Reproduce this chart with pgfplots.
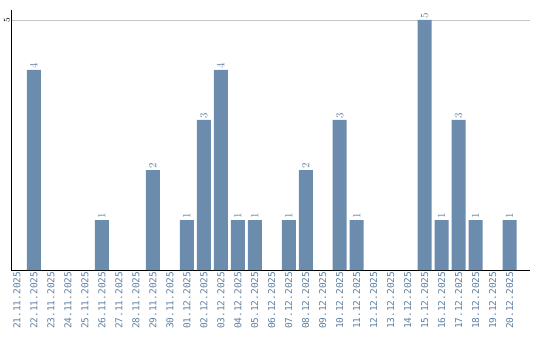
\documentclass[border=0pt]{standalone}
\usepackage{fontspec}
\usepackage{pgfplots}
\pgfplotsset{compat=1.18}
\setmainfont{DejaVu Sans}
\newfontfamily\monof{DejaVu Sans Mono}
\definecolor{barc}{HTML}{6B8CAD}
\definecolor{labc}{HTML}{5F80A3}
\begin{document}
\begin{tikzpicture}
\path[use as bounding box] (0,0) rectangle (540pt,340pt);
\begin{axis}[
  at={(11pt,70pt)}, anchor=south west,
  scale only axis, width=519pt, height=260pt,
  xmin=-0.35, xmax=30.2, ymin=0, ymax=5.2,
  axis x line*=bottom, axis y line*=left,
  axis line style={black, line width=0.8pt, -},
  xtick={0,...,29},
  xticklabels={21.11.2025,22.11.2025,23.11.2025,24.11.2025,25.11.2025,26.11.2025,27.11.2025,28.11.2025,29.11.2025,30.11.2025,01.12.2025,02.12.2025,03.12.2025,04.12.2025,05.12.2025,06.12.2025,07.12.2025,08.12.2025,09.12.2025,10.12.2025,11.12.2025,12.12.2025,13.12.2025,14.12.2025,15.12.2025,16.12.2025,17.12.2025,18.12.2025,19.12.2025,20.12.2025},
  xticklabel style={rotate=90, anchor=east, font=\monof\fontsize{9.5}{10}\selectfont, text=labc, inner sep=1.5pt},
  major tick length=0pt,
  ytick={5},
  yticklabel style={rotate=90, anchor=south, font=\monof\fontsize{9.5}{10}\selectfont, inner sep=1pt},
  ymajorgrids, grid style={gray!45, line width=0.7pt},
  clip=false,
]
\addplot[ybar, bar width=14pt, fill=barc, draw=none,
  nodes near coords,
  every node near coord/.append style={rotate=90, anchor=west, font=\monof\fontsize{11}{12}\selectfont, text=labc, inner sep=1pt}]
coordinates {
(1,4) (5,1) (8,2)
(10,1) (11,3) (12,4) (13,1) (14,1) (16,1) (17,2) (19,3)
(20,1) (24,5) (25,1) (26,3) (27,1) (29,1)
};
\end{axis}
\end{tikzpicture}
\end{document}
